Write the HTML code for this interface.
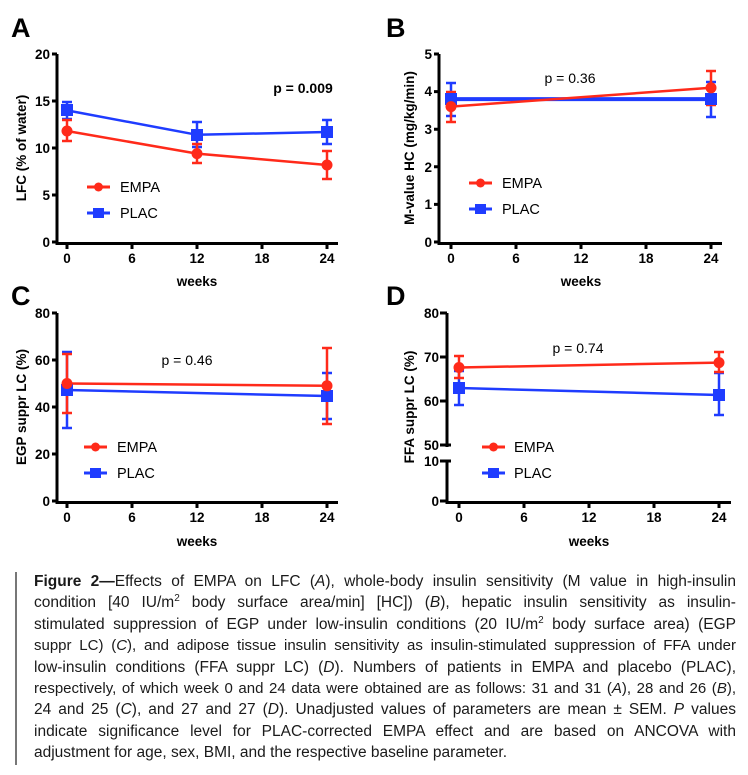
<!DOCTYPE html>
<html><head><meta charset="utf-8"><style>
body{margin:0;background:#fff;width:748px;height:775px;overflow:hidden;position:relative}
svg{position:absolute;left:0;top:0}
.cap{position:absolute;left:34px;top:571px;width:702px;font-family:"Liberation Sans",sans-serif;font-size:15px;line-height:21.4px;color:#1a1a1a}
.cap div{text-align:justify;text-align-last:justify;white-space:nowrap;height:21.4px}
.bar{position:absolute;left:15px;top:572px;width:2px;height:193px;background:#777}
</style></head><body>
<svg width="748" height="560" font-family="Liberation Sans, sans-serif">
<g font-weight="bold" font-size="27" fill="#000">
<text x="11" y="37">A</text><text x="386" y="37">B</text>
<text x="11" y="305">C</text><text x="386" y="305">D</text>
</g>
<g stroke="#000" stroke-width="3" fill="none">
<path d="M57,54V243.5H338"/>
<path d="M52,54H57M52,101H57M52,148H57M52,195H57M52,242H57"/>
<path d="M67,242V249M132,242V249M197,242V249M262,242V249M327,242V249"/>
<path d="M439,54V243.5H722"/>
<path d="M434,54H439M434,91.6H439M434,129.2H439M434,166.8H439M434,204.4H439M434,242H439"/>
<path d="M451,242V249M516,242V249M581,242V249M646,242V249M711,242V249"/>
<path d="M57,313V502.5H338"/>
<path d="M52,313H57M52,360H57M52,407H57M52,454H57M52,501H57"/>
<path d="M67,501V508M132,501V508M197,501V508M262,501V508M327,501V508"/>
<path d="M447,313V447M447,460V502.5H731"/>
<path d="M440,313H447M440,357H447M440,401H447M440,445H451M440,461H451M440,501H447"/>
<path d="M459,501V508M524,501V508M589,501V508M654,501V508M719,501V508"/>
</g>
<g font-weight="bold" font-size="13.5" fill="#000" text-anchor="end">
<text x="50" y="59">20</text><text x="50" y="106">15</text><text x="50" y="153">10</text><text x="50" y="200">5</text><text x="50" y="247">0</text>
<text x="432" y="59">5</text><text x="432" y="96">4</text><text x="432" y="134">3</text><text x="432" y="172">2</text><text x="432" y="209">1</text><text x="432" y="247">0</text>
<text x="50" y="318">80</text><text x="50" y="365">60</text><text x="50" y="412">40</text><text x="50" y="459">20</text><text x="50" y="506">0</text>
<text x="439" y="318">80</text><text x="439" y="362">70</text><text x="439" y="406">60</text><text x="439" y="450">50</text><text x="439" y="466">10</text><text x="439" y="506">0</text>
</g>
<g font-weight="bold" font-size="13.5" fill="#000" text-anchor="middle">
<text x="67" y="263">0</text><text x="132" y="263">6</text><text x="197" y="263">12</text><text x="262" y="263">18</text><text x="327" y="263">24</text>
<text x="451" y="263">0</text><text x="516" y="263">6</text><text x="581" y="263">12</text><text x="646" y="263">18</text><text x="711" y="263">24</text>
<text x="67" y="522">0</text><text x="132" y="522">6</text><text x="197" y="522">12</text><text x="262" y="522">18</text><text x="327" y="522">24</text>
<text x="459" y="522">0</text><text x="524" y="522">6</text><text x="589" y="522">12</text><text x="654" y="522">18</text><text x="719" y="522">24</text>
<text x="197" y="286">weeks</text><text x="581" y="286">weeks</text>
<text x="197" y="546">weeks</text><text x="589" y="546">weeks</text>
<text transform="translate(26,148) rotate(-90)">LFC (% of water)</text>
<text transform="translate(414,148) rotate(-90)">M-value HC (mg/kg/min)</text>
<text transform="translate(26,407) rotate(-90)">EGP suppr LC (%)</text>
<text transform="translate(414,407) rotate(-90)">FFA suppr LC (%)</text>
</g>
<g font-size="14" fill="#000" text-anchor="middle">
<text x="303" y="93" font-weight="bold">p = 0.009</text>
<text x="570" y="83">p = 0.36</text>
<text x="187" y="365">p = 0.46</text>
<text x="578" y="353">p = 0.74</text>
</g>
<g stroke-width="2.5" fill="none">
<g stroke="#1f3cff"><path d="M67,110.4L197,134.8L327,132"/><path d="M67,102V119M62,102H72M62,119H72M197,122V147M192,122H202M192,147H202M327,120V144M322,120H332M322,144H332"/></g>
<g stroke="#ff2a1a"><path d="M67,131L197,153.6L327,165"/><path d="M67,120V141M62,120H72M62,141H72M197,144V163M192,144H202M192,163H202M327,151V179M322,151H332M322,179H332"/></g>
</g>
<rect x="61" y="104" width="12" height="12" fill="#1f3cff"/><rect x="191" y="129" width="12" height="12" fill="#1f3cff"/><rect x="321" y="126" width="12" height="12" fill="#1f3cff"/>
<circle cx="67" cy="131" r="5.5" fill="#ff2a1a"/><circle cx="197" cy="153.6" r="5.5" fill="#ff2a1a"/><circle cx="327" cy="165" r="5.5" fill="#ff2a1a"/>
<g stroke-width="2.5" fill="none">
<g stroke="#1f3cff"><path d="M451,99.1L711,99.1" stroke-width="4"/><path d="M451,83V116M446,83H456M446,116H456M711,82V117M706,82H716M706,117H716"/></g>
<g stroke="#ff2a1a"><path d="M451,106.6L711,87.8"/><path d="M451,92V122M446,92H456M446,122H456M711,71V105M706,71H716M706,105H716"/></g>
</g>
<rect x="445" y="93" width="12" height="12" fill="#1f3cff"/><rect x="705" y="93" width="12" height="12" fill="#1f3cff"/>
<circle cx="451" cy="106.6" r="5.5" fill="#ff2a1a"/><circle cx="711" cy="87.8" r="5.5" fill="#ff2a1a"/>
<g stroke-width="2.5" fill="none">
<g stroke="#1f3cff"><path d="M67,390L327,396"/><path d="M67,352V428M62,352H72M62,428H72M327,373V419M322,373H332M322,419H332"/></g>
<g stroke="#ff2a1a"><path d="M67,383.5L327,385.8"/><path d="M67,354V413M62,354H72M62,413H72M327,348V424M322,348H332M322,424H332"/></g>
</g>
<rect x="61" y="384" width="12" height="12" fill="#1f3cff"/><rect x="321" y="390" width="12" height="12" fill="#1f3cff"/>
<circle cx="67" cy="383.5" r="5.5" fill="#ff2a1a"/><circle cx="327" cy="385.8" r="5.5" fill="#ff2a1a"/>
<g stroke-width="2.5" fill="none">
<g stroke="#1f3cff"><path d="M459,388L719,395"/><path d="M459,371V405M454,371H464M454,405H464M719,373V415M714,373H724M714,415H724"/></g>
<g stroke="#ff2a1a"><path d="M459,367.5L719,362.6"/><path d="M459,356V378M454,356H464M454,378H464M719,352V372M714,352H724M714,372H724"/></g>
</g>
<rect x="453" y="382" width="12" height="12" fill="#1f3cff"/><rect x="713" y="389" width="12" height="12" fill="#1f3cff"/>
<circle cx="459" cy="367.5" r="5.5" fill="#ff2a1a"/><circle cx="719" cy="362.6" r="5.5" fill="#ff2a1a"/>
<g stroke-width="3">
<path d="M87,187H110M469,183H492M84,447H107M482,447H505" stroke="#ff2a1a"/>
<path d="M87,213H110M469,209H492M84,473H107M482,473H505" stroke="#1f3cff"/>
</g>
<g fill="#ff2a1a"><circle cx="98.5" cy="187" r="4.5"/><circle cx="480.5" cy="183" r="4.5"/><circle cx="95.5" cy="447" r="4.5"/><circle cx="493.5" cy="447" r="4.5"/></g>
<g fill="#1f3cff"><rect x="93" y="208" width="11" height="10"/><rect x="475" y="204" width="11" height="10"/><rect x="90" y="468" width="11" height="10"/><rect x="488" y="468" width="11" height="10"/></g>
<g font-size="14.5" fill="#000">
<text x="120" y="192">EMPA</text><text x="120" y="218">PLAC</text>
<text x="502" y="188">EMPA</text><text x="502" y="214">PLAC</text>
<text x="117" y="452">EMPA</text><text x="117" y="478">PLAC</text>
<text x="514" y="452">EMPA</text><text x="514" y="478">PLAC</text>
</g>
</svg>
<div class="bar"></div>
<div class="cap">
<div style="font-size:15.5px"><b>Figure 2—</b>Effects of EMPA on LFC (<i>A</i>), whole-body insulin sensitivity (M value in high-insulin</div>
<div style="font-size:15.5px">condition [40 IU/m<sup style="font-size:10px;line-height:0">2</sup> body surface area/min] [HC]) (<i>B</i>), hepatic insulin sensitivity as insulin-</div>
<div style="font-size:15.5px">stimulated suppression of EGP under low-insulin conditions (20 IU/m<sup style="font-size:10px;line-height:0">2</sup> body surface area) (EGP</div>
<div style="font-size:15px">suppr LC) (<i>C</i>), and adipose tissue insulin sensitivity as insulin-stimulated suppression of FFA under</div>
<div style="font-size:15.5px">low-insulin conditions (FFA suppr LC) (<i>D</i>). Numbers of patients in EMPA and placebo (PLAC),</div>
<div style="font-size:15px">respectively, of which week 0 and 24 data were obtained are as follows: 31 and 31 (<i>A</i>), 28 and 26 (<i>B</i>),</div>
<div style="font-size:15.5px">24 and 25 (<i>C</i>), and 27 and 27 (<i>D</i>). Unadjusted values of parameters are mean ± SEM. <i>P</i> values</div>
<div style="font-size:15.5px">indicate significance level for PLAC-corrected EMPA effect and are based on ANCOVA with</div>
<div style="font-size:15.5px;text-align-last:left">adjustment for age, sex, BMI, and the respective baseline parameter.</div>
</div>
</body></html>
